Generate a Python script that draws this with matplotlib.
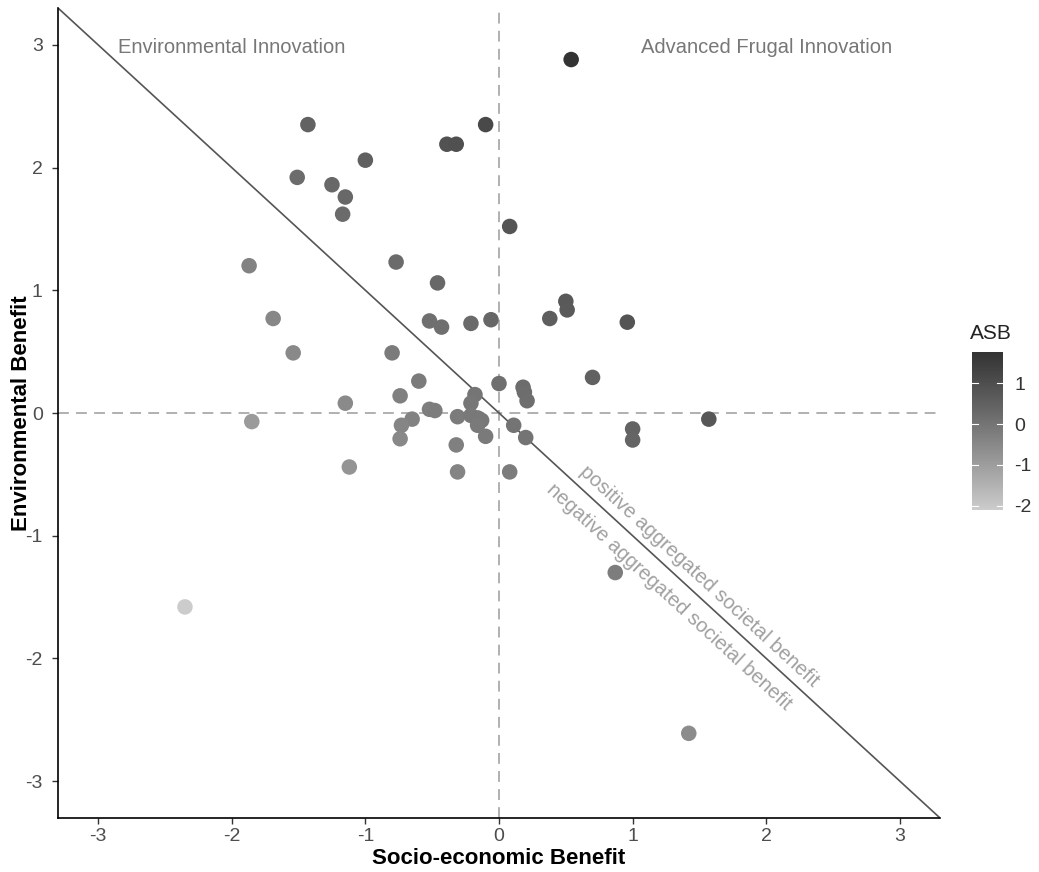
import numpy as np
import matplotlib
matplotlib.use("Agg")
import matplotlib.pyplot as plt
from matplotlib.colors import ListedColormap, Normalize

# ---- data ----
socio = [0.54, -1.43, -0.10, -0.39, -0.32, -1.00, -1.51, -1.25, -1.15, -1.17,
         0.08, -1.87, -0.77, -0.46, -1.69, -0.52, -0.43, -0.21, -0.06, 0.50,
         0.51, 0.38, 0.96, -1.54, -0.80, -0.60, 0.70, 0.00, 0.18, 0.19,
         0.21, -0.74, -0.18, -0.21, -1.15, -0.52, -0.48, -1.85, -0.31, -0.21,
         -0.16, -0.13, -0.16, -0.65, -0.73, 0.11, -0.74, -0.10, 0.20, -0.32,
         -1.12, -0.31, 0.08, 1.57, 1.00, 1.00, 0.87, 1.42, -2.35]
env = [2.88, 2.35, 2.35, 2.19, 2.19, 2.06, 1.92, 1.86, 1.76, 1.62,
       1.52, 1.20, 1.23, 1.06, 0.77, 0.75, 0.70, 0.73, 0.76, 0.91,
       0.84, 0.77, 0.74, 0.49, 0.49, 0.26, 0.29, 0.24, 0.21, 0.17,
       0.10, 0.14, 0.15, 0.08, 0.08, 0.03, 0.02, -0.07, -0.03, -0.02,
       -0.04, -0.06, -0.10, -0.05, -0.10, -0.10, -0.21, -0.19, -0.20, -0.26,
       -0.44, -0.48, -0.48, -0.05, -0.13, -0.22, -1.30, -2.61, -1.58]
asb = [1.76, 0.46, 1.13, 0.90, 0.94, 0.53, 0.21, 0.31, 0.31, 0.23,
       0.80, -0.34, 0.23, 0.30, -0.46, 0.12, 0.14, 0.26, 0.35, 0.71,
       0.68, 0.58, 0.85, -0.53, -0.16, -0.17, 0.50, 0.12, 0.20, 0.18,
       0.16, -0.30, -0.02, -0.07, -0.54, -0.25, -0.23, -0.96, -0.17, -0.12,
       -0.10, -0.10, -0.13, -0.35, -0.42, 0.00, -0.48, -0.15, 0.00, -0.29,
       -0.78, -0.40, -0.20, 0.76, 0.44, 0.39, -0.22, -0.60, -2.10]

x_ticks = [-3, -2, -1, 0, 1, 2, 3]
y_ticks = [-3, -2, -1, 0, 1, 2, 3]
cbar_ticks = [-2, -1, 0, 1]
lim = 3.3

FONT = ['Liberation Sans Narrow', 'Liberation Sans', 'DejaVu Sans']
plt.rcParams['font.family'] = FONT
plt.rcParams['axes.unicode_minus'] = False


# grey gradient interpolated in L* (like ggplot's scale_colour_gradient)
def _to_L(v):
    c = v / 255.0
    lin = c / 12.92 if c <= 0.04045 else ((c + 0.055) / 1.055) ** 2.4
    return 116 * lin ** (1 / 3) - 16 if lin > 0.008856 else 903.3 * lin


def _from_L(L):
    Y = ((L + 16) / 116) ** 3 if L > 8 else L / 903.3
    c = 12.92 * Y if Y <= 0.0031308 else 1.055 * Y ** (1 / 2.4) - 0.055
    return min(max(c, 0), 1)


L_lo, L_hi = _to_L(0xcc), _to_L(0x33)
cols = [(g, g, g) for g in (_from_L(L) for L in np.linspace(L_lo, L_hi, 256))]
cmap = ListedColormap(cols)
norm = Normalize(vmin=min(asb), vmax=max(asb))

fig = plt.figure(figsize=(10.39, 8.72), dpi=100)
ax = fig.add_axes([58 / 1039, 1 - 818 / 872, 882 / 1039, 810 / 872])

ax.axhline(0, color='#aaaaaa', lw=1.3, ls=(0, (6, 4)), zorder=1)
ax.axvline(0, color='#aaaaaa', lw=1.3, ls=(0, (6, 4)), zorder=1)
ax.plot([-lim, lim], [lim, -lim], color='#555555', lw=1.2, zorder=2)

ax.scatter(socio, env, c=asb, cmap=cmap, norm=norm, s=125, linewidths=0, zorder=3)

ax.set_xlim(-lim, lim)
ax.set_ylim(-lim, lim)
ax.set_xticks(x_ticks)
ax.set_yticks(y_ticks)
ax.set_xticklabels([str(t) for t in x_ticks])
ax.set_yticklabels([str(t) for t in y_ticks])
ax.tick_params(axis='both', length=4, width=1, color='#333333', labelsize=14,
               labelcolor='#4d4d4d')
ax.tick_params(axis='x', pad=3)
ax.tick_params(axis='y', pad=7)
for side in ['top', 'right']:
    ax.spines[side].set_visible(False)
for side in ['left', 'bottom']:
    ax.spines[side].set_linewidth(1.2)
    ax.spines[side].set_color('black')

ax.set_xlabel('Socio-economic Benefit', fontsize=16, fontweight='bold', labelpad=2)
ax.set_ylabel('Environmental Benefit', fontsize=16, fontweight='bold')
ax.yaxis.set_label_coords(-0.029, 0.5)

ax.text(-2.0, 2.98, 'Environmental Innovation', fontsize=14.5, color='#777777',
        ha='center', va='center')
ax.text(2.0, 2.98, 'Advanced Frugal Innovation', fontsize=14.5, color='#777777',
        ha='center', va='center')

ang = -np.degrees(np.arctan2(810, 882))
ax.text(1.50, -1.33, 'positive aggregated societal benefit', fontsize=14.5,
        color='#a0a0a0', rotation=ang, rotation_mode='anchor',
        ha='center', va='center')
ax.text(1.27, -1.50, 'negative aggregated societal benefit', fontsize=14.5,
        color='#a0a0a0', rotation=ang, rotation_mode='anchor',
        ha='center', va='center')

# colour bar
cax = fig.add_axes([972 / 1039, 1 - 510 / 872, 31 / 1039, 158 / 872])
cb = fig.colorbar(plt.cm.ScalarMappable(norm=norm, cmap=cmap), cax=cax, ticks=cbar_ticks)
cb.outline.set_visible(False)
cb.ax.tick_params(length=0, labelsize=14, labelcolor='#333333', pad=8)
for t in cbar_ticks:
    cax.plot([0, 0.2], [t, t], color='white', lw=0.8, transform=cax.get_yaxis_transform())
    cax.plot([0.8, 1.0], [t, t], color='white', lw=0.8, transform=cax.get_yaxis_transform())
cax.text(-0.05, 1.06, 'ASB', transform=cax.transAxes, fontsize=15, color='#222222',
         ha='left', va='bottom')

fig.savefig('out.png', dpi=100)
